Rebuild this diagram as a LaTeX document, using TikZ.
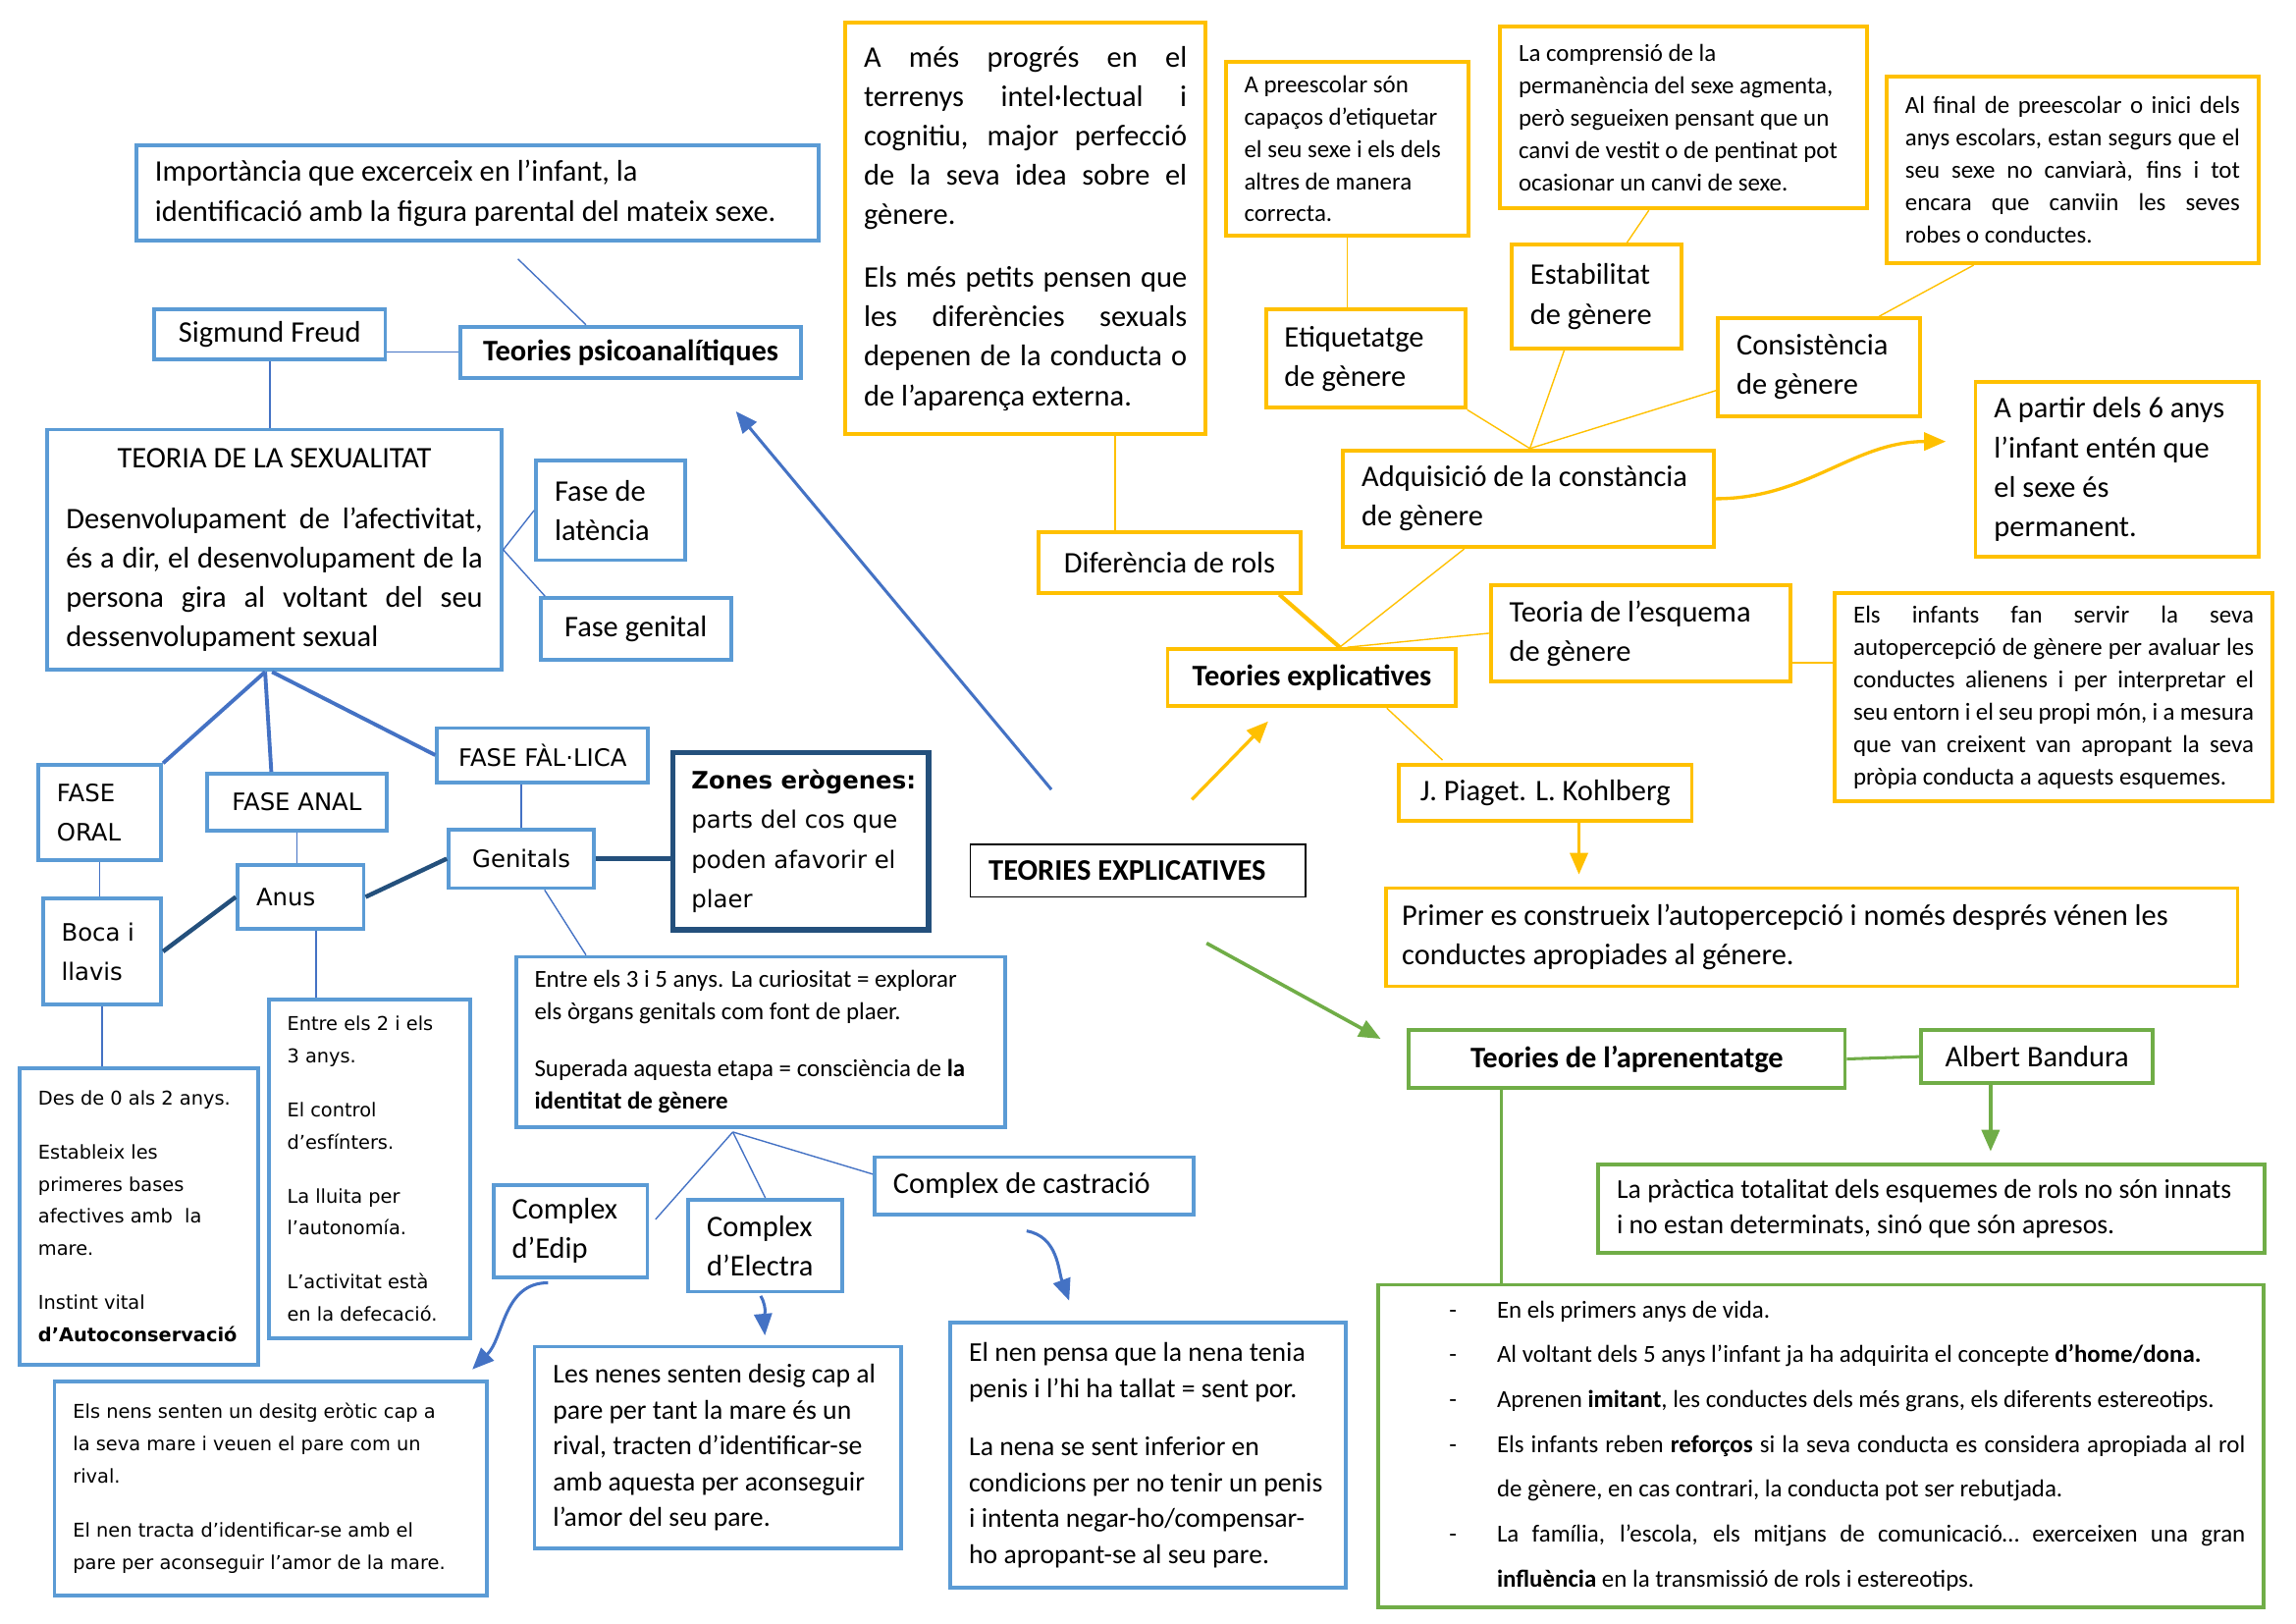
\documentclass[tikz,border=0pt]{standalone}
\usepackage{fontspec}
\setmainfont{Carlito}
\newfontfamily\verd{DejaVu Sans}
\usetikzlibrary{arrows.meta}

\definecolor{boxblue}{HTML}{5B9BD5}
\definecolor{lineblue}{HTML}{4472C4}
\definecolor{darkblue}{HTML}{24507C}
\definecolor{boxyellow}{HTML}{FFC000}
\definecolor{boxgreen}{HTML}{70AD47}

\hyphenpenalty=10000
\exhyphenpenalty=10000
\newcommand{\guio}{\noindent\llap{-\hspace{5.2mm}}}

\tikzset{
  f11/.style={font=\fontsize{11}{14.5}\selectfont},
  f10/.style={font=\fontsize{10}{13.2}\selectfont},
  f9/.style={font=\fontsize{9}{11.9}\selectfont},
  v9/.style={font=\verd\fontsize{8.8}{14.5}\selectfont},
  v7/.style={font=\verd\fontsize{7}{11.9}\selectfont},
  bbox/.style={draw=boxblue, line width=1.4pt, anchor=north west, inner xsep=2.4mm,
    inner ysep=0pt, align=flush left, f11},
  ybox/.style={bbox, draw=boxyellow},
  gbox/.style={bbox, draw=boxgreen},
  boxsize/.code 2 args={\pgfmathsetlengthmacro\boxtw{#1mm-4.8mm}%
    \pgfkeysalso{minimum width=#1mm, minimum height=#2mm, text width/.expand once=\boxtw}},
  labsize/.style 2 args={minimum width=#1mm, minimum height=#2mm},
  thinb/.style={lineblue, line width=0.5pt},
  thickb/.style={lineblue, line width=1.4pt},
  darkb/.style={darkblue, line width=1.6pt},
  thiny/.style={boxyellow, line width=0.5pt},
  thicky/.style={boxyellow, line width=1.5pt},
  thickg/.style={boxgreen, line width=1.1pt},
  arrb/.style={-{Triangle[length=2.8mm,width=2.3mm]}, lineblue, line width=1.1pt},
  arry/.style={-{Triangle[length=2.8mm,width=2.3mm]}, boxyellow, line width=1.2pt},
  arrg/.style={-{Triangle[length=2.8mm,width=2.3mm]}, boxgreen, line width=1.3pt},
}

\begin{document}
\begin{tikzpicture}[x=1mm, y=-1mm]
  \useasboundingbox (0,0) rectangle (297,210);

  % Psychoanalytic theories (blue)
  \node[bbox, boxsize={88.3}{12.3}] (imp) at (17.4,18.6)
    {Importància que excerceix en l’infant, la\\identificació amb la figura parental del mateix sexe.};
  \node[bbox, labsize={29.9}{6.4}] (freud) at (19.7,39.8) {Sigmund Freud};
  \node[bbox, labsize={44.1}{6.6}, font=\fontsize{11}{14.5}\selectfont\bfseries] (psico) at (59.3,42.0)
    {Teories psicoanalítiques};
  \node[bbox, boxsize={58.7}{31.1}, align=justify] (teoria) at (5.9,55.3)
    {{\centering TEORIA DE LA SEXUALITAT\par}\vspace{2.8mm}Desenvolupament de l’afectivitat,\linebreak
     és a dir, el desenvolupament de la\linebreak persona gira al voltant del seu\linebreak dessenvolupament sexual};
  \node[bbox, boxsize={19.3}{12.9}] (latencia) at (69.1,59.3) {Fase de\\latència};
  \node[bbox, labsize={24.6}{8.0}] (genital) at (69.7,77.1) {Fase genital};

  \node[bbox, boxsize={15.9}{12.3}, v9] (oral) at (4.7,98.7) {FASE\\ORAL};
  \node[bbox, labsize={23.3}{7.4}, v9] (anal) at (26.5,99.8) {FASE ANAL};
  \node[bbox, labsize={27.3}{7.0}, v9] (fallica) at (56.3,93.9) {FASE FÀL·LICA};
  \node[bbox, boxsize={15.3}{13.8}, v9] (boca) at (5.3,115.9) {Boca i\\llavis};
  \node[bbox, boxsize={16.3}{8.3}, v9] (anus) at (30.5,111.6) {Anus};
  \node[bbox, labsize={18.8}{7.6}, v9] (genitals) at (57.8,107.0) {Genitals};
  \node[bbox, boxsize={33.1}{22.9}, v9, draw=darkblue, line width=2pt] (zones) at (86.7,97.0)
    {\mbox{\textbf{Zones erògenes:}}\\parts del cos que\\poden afavorir el\\plaer};

  \node[bbox, boxsize={30.9}{38.3}, v7] (des0) at (2.3,137.9)
    {Des de 0 als 2 anys.\\[2.8mm]Estableix les\\primeres bases\\afectives amb~ la\\mare.\\[2.8mm]
     Instint vital\\\textbf{d’Autoconservació}};
  \node[bbox, boxsize={26.1}{43.8}, v7] (entre2) at (34.5,129.0)
    {Entre els 2 i els\\3 anys.\\[2.8mm]El control\\d’esfínters.\\[2.8mm]La lluita per\\l’autonomía.\\[2.8mm]
     L’activitat està\\en la defecació.};
  \node[bbox, boxsize={63.3}{22.0}, f9] (entre3) at (66.5,123.5)
    {Entre els 3 i 5 anys. La curiositat = explorar\\els òrgans genitals com font de plaer.\\[3.2mm]
     Superada aquesta etapa = consciència de \textbf{la}\\\textbf{identitat de gènere}};
  \node[bbox, boxsize={19.9}{11.9}] (edip) at (63.6,153.0) {Complex\\d’Edip};
  \node[bbox, boxsize={19.9}{11.9}] (electra) at (88.8,154.9) {Complex\\d’Electra};
  \node[bbox, boxsize={41.3}{7.4}] (castracio) at (112.9,149.4) {Complex de castració};
  \node[bbox, boxsize={55.9}{27.7}, v7] (nens) at (6.8,178.4)
    {Els nens senten un desitg eròtic cap a\\la seva mare i veuen el pare com un\\rival.\\[2.8mm]
     El nen tracta d’identificar-se amb el\\pare per aconseguir l’amor de la mare.};
  \node[bbox, boxsize={47.4}{26.1}, f10] (nenes) at (68.9,173.9)
    {Les nenes senten desig cap al\\pare per tant la mare és un\\rival, tracten d’identificar-se\\
     amb aquesta per aconseguir\\l’amor del seu pare.};
  \node[bbox, boxsize={51.1}{34.3}, f10] (nenpensa) at (122.7,170.8)
    {El nen pensa que la nena tenia\\penis i l’hi ha tallat = sent por.\\[2.9mm]La nena se sent inferior en\\
     condicions per no tenir un penis\\i intenta negar-ho/compensar-\\ho apropant-se al seu pare.};

  % Centre
  \node[bbox, boxsize={43.4}{6.8}, draw=black, line width=0.5pt,
    font=\fontsize{11}{14.5}\selectfont\bfseries] (main) at (125.4,109.1) {TEORIES EXPLICATIVES};

  % Explanatory theories (yellow)
  \node[ybox, boxsize={46.6}{53.2}, align=justify] (ames) at (109.1,2.7)
    {A més progrés en el\linebreak terrenys intel·lectual i\linebreak cognitiu, major perfecció\linebreak
     de la seva idea sobre el\linebreak gènere.\par\vspace{3mm}Els més petits pensen que\linebreak
     les diferències sexuals\linebreak depenen de la conducta o\linebreak de l’aparença externa.};
  \node[ybox, labsize={33.9}{7.8}] (difrols) at (134.1,68.6) {Diferència de rols};
  \node[ybox, labsize={37.3}{7.4}, font=\fontsize{11}{14.5}\selectfont\bfseries] (texpl) at (150.8,83.7)
    {Teories explicatives};
  \node[ybox, boxsize={47.9}{12.5}] (adq) at (173.5,58.0) {Adquisició de la constància\\de gènere};
  \node[ybox, boxsize={38.8}{12.5}] (esquema) at (192.6,75.4) {Teoria de l’esquema\\de gènere};
  \node[ybox, labsize={37.9}{7.2}] (piaget) at (180.7,98.7) {J. Piaget. L. Kohlberg};
  \node[ybox, boxsize={110.2}{12.7}, text width=106mm, inner xsep=2.1mm] (primer) at (179.0,114.6)
    {Primer es construeix l’autopercepció i només després vénen les\\conductes apropiades al génere.};
  \node[ybox, boxsize={25.8}{12.7}] (etiq) at (163.5,39.8) {Etiquetatge\\de gènere};
  \node[ybox, boxsize={31.4}{22.4}, f9] (presc) at (158.3,7.8)
    {A preescolar són\\capaços d’etiquetar\\el seu sexe i els dels\\altres de manera\\correcta.};
  \node[ybox, boxsize={22.0}{13.4}] (estab) at (195.3,31.4) {Estabilitat\\de gènere};
  \node[ybox, boxsize={47.5}{23.5}, f9] (compr) at (193.8,3.2)
    {La comprensió de la\\permanència del sexe agmenta,\\però segueixen pensant que un\\
     canvi de vestit o de pentinat pot\\ocasionar un canvi de sexe.};
  \node[ybox, boxsize={26.1}{12.7}] (consist) at (222.0,40.9) {Consistència\\de gènere};
  \node[ybox, boxsize={48.1}{24.1}, f9, align=justify] (alfinal) at (243.8,9.7)
    {Al final de preescolar o inici dels\linebreak anys escolars, estan segurs que el\linebreak
     seu sexe no canviarà, fins i tot\linebreak encara que canviin les seves\linebreak robes o conductes.};
  \node[ybox, boxsize={36.6}{22.7}] (apartir) at (255.3,49.1)
    {A partir dels 6 anys\\l’infant entén que\\el sexe és\\permanent.};
  \node[ybox, boxsize={56.6}{26.9}, f9, align=justify] (infants) at (237.1,76.5)
    {Els infants fan servir la seva\linebreak autopercepció de gènere per avaluar les\linebreak
     conductes alienens i per interpretar el\linebreak seu entorn i el seu propi món, i a mesura\linebreak
     que van creixent van apropant la seva\linebreak pròpia conducta a aquests esquemes.};

  % Learning theories (green)
  \node[gbox, labsize={56.4}{7.4}, font=\fontsize{11}{14.5}\selectfont\bfseries] (aprenen) at (182.0,133.0)
    {Teories de l’aprenentatge};
  \node[gbox, labsize={29.9}{6.8}] (bandura) at (248.3,133.0) {Albert Bandura};
  \node[gbox, boxsize={86.2}{11.4}, f10] (practica) at (206.5,150.4)
    {La pràctica totalitat dels esquemes de rols no són innats\\i no estan determinats, sinó que són apresos.};
  \node[gbox, boxsize={114.6}{41.7}, align=justify, font=\fontsize{9}{16.5}\selectfont] (big) at (178.0,165.9)
    {{\leftskip=13mm
     \guio En els primers anys de vida.\par
     \guio Al voltant dels 5 anys l’infant ja ha adquirita el concepte \textbf{d’home/dona.}\par
     \guio Aprenen \textbf{imitant}, les conductes dels més grans, els diferents estereotips.\par
     \guio Els infants reben \textbf{reforços} si la seva conducta es considera apropiada al rol\linebreak
       de gènere, en cas contrari, la conducta pot ser rebutjada.\par
     \guio La família, l’escola, els mitjans de comunicació… exerceixen una gran\linebreak
       \textbf{influència} en la transmissió de rols i estereotips.\par}};

  % Blue connectors
  \draw[thinb] ([xshift=5.2mm,yshift=-2.1mm]imp.south) -- ([xshift=-5.8mm]psico.north);
  \draw[thinb] (psico.west) -- (psico.west -| freud.east);
  \draw[thinb] (freud.south) -- (freud.south |- teoria.north);
  \draw[thinb] (teoria.east) -- (latencia.west);
  \draw[thinb] (teoria.east) -- ([xshift=0.8mm]genital.north west);
  \coordinate (tb) at ([xshift=-1.2mm]teoria.south);
  \draw[thickb] (tb) -- (oral.north east);
  \draw[thickb] (tb) -- ([xshift=-3.3mm]anal.north);
  \draw[thickb] ([xshift=-0.3mm]teoria.south) -- (fallica.west);
  \draw[thinb] (oral.south) -- (oral.south |- boca.north);
  \draw[thinb] (anal.south) -- (anal.south |- anus.north);
  \draw[thinb] (genitals.north) -- (genitals.north |- fallica.south);
  \draw[darkb] (boca.east) -- (anus.west);
  \draw[darkb] (anus.east) -- (genitals.west);
  \draw[darkb] (genitals.east) -- (genitals.east -| zones.west);
  \draw[thinb] ([xshift=2mm]anus.south) -- ([xshift=2mm]anus.south |- entre2.north);
  \draw[thinb] (boca.south) -- (boca.south |- des0.north);
  \draw[thinb] ([xshift=3mm]genitals.south) -- ([xshift=9.3mm]entre3.north west);
  \coordinate (cx) at ([xshift=-3.6mm,yshift=-0.4mm]entre3.south);
  \draw[thinb] (cx) -- ([xshift=0.8mm,yshift=1.5mm]edip.east);
  \draw[thinb] (cx) -- (electra.north);
  \draw[thinb] (cx) -- ([yshift=1.5mm]castracio.west);
  \draw[arrb] ([xshift=-2.9mm,yshift=-0.5mm]edip.south) to[out=180,in=45]
    ([xshift=-2.1mm,yshift=1.3mm]nens.north east);
  \draw[arrb] ([xshift=-0.6mm,yshift=-0.3mm]electra.south) to[out=-60,in=95]
    ([xshift=6.1mm,yshift=1.2mm]nenes.north);
  \draw[arrb] ([xshift=-1mm,yshift=-1.9mm]castracio.south) to[out=-10,in=110]
    ([xshift=15.6mm,yshift=2.6mm]nenpensa.north west);

  % Yellow connectors
  \draw[thiny] ([xshift=11.6mm]ames.south) -- ([xshift=11.6mm]ames.south |- difrols.north);
  \coordinate (tt) at ([xshift=3.6mm]texpl.north);
  \draw[thicky] ([xshift=-3mm]difrols.south east) -- (tt);
  \draw[thiny] ([xshift=15.9mm]adq.south west) -- (tt);
  \draw[thiny] (esquema.west) -- ([xshift=1mm]tt);
  \draw[thiny] ([xshift=9.7mm]texpl.south) -- ([xshift=5.9mm,yshift=0.4mm]piaget.north west);
  \draw[arry, shorten >=1.5mm] ([xshift=4.35mm]piaget.south) -- ([xshift=4.35mm]piaget.south |- primer.north);
  \draw[thiny] (presc.south) -- (presc.south |- etiq.north);
  \draw[thiny] ([xshift=-4.5mm]compr.south) -- ([xshift=3.9mm]estab.north);
  \draw[thiny] ([xshift=11.5mm]alfinal.south west) -- ([xshift=7.8mm]consist.north);
  \coordinate (adqtop) at ([xshift=24.4mm]adq.north west);
  \draw[thiny] (etiq.south east) -- (adqtop);
  \draw[thiny] ([xshift=-4.2mm]estab.south) -- (adqtop);
  \draw[thiny] ([yshift=-3mm]consist.west) -- (adqtop);
  \draw[arry] (adq.east) to[out=0,in=180] ([xshift=-3.6mm,yshift=3.6mm]apartir.west);
  \draw[thiny] ([yshift=4.5mm]infants.west) -- ([yshift=4.5mm]infants.west -| esquema.east);

  % Green connectors
  \draw[thickg] (aprenen.east) -- (bandura.west);
  \draw[arrg, shorten >=1.5mm] ([xshift=-6mm]bandura.south) -- ([xshift=-6mm]bandura.south |- practica.north);
  \draw[thickg] ([xshift=-16.2mm]aprenen.south) -- ([xshift=-16.2mm]aprenen.south |- big.north);

  % Arrows out of the centre
  \draw[arrb] ([xshift=10.6mm,yshift=7mm]main.north west) -- ([xshift=-8.7mm,yshift=-4.1mm]psico.south east);
  \draw[arry] ([xshift=-14.8mm,yshift=5.7mm]main.north east) -- ([xshift=-5.65mm,yshift=-1.7mm]texpl.south);
  \draw[arrg] ([xshift=-12.9mm,yshift=-5.9mm]main.south east) -- ([xshift=-3.4mm,yshift=2.6mm]aprenen.west);
\end{tikzpicture}
\end{document}
